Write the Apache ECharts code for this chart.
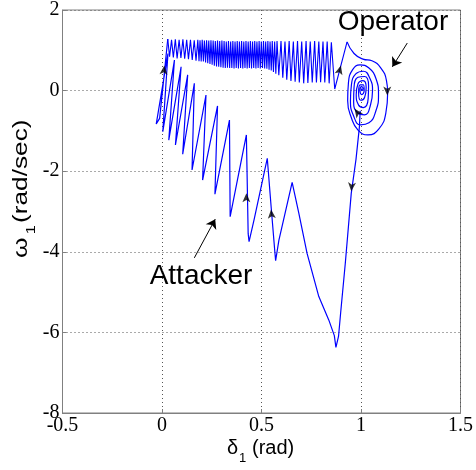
<!DOCTYPE html>
<html><head><meta charset="utf-8">
<script src="https://cdn.jsdelivr.net/npm/echarts@6/dist/echarts.min.js"></script>
<style>html,body{margin:0;padding:0;background:#fff}#c{width:476px;height:470px}</style>
</head><body><div id="c"></div>
<script>
// ---- data (delta_1 [rad], omega_1 [rad/sec]) ----
const xTickLabels = ['-0.5', '0', '0.5', '1', '1.5'];
const yTickLabels = ['-8', '-6', '-4', '-2', '0', '2'];

// attack: V descent from equilibrium, then sawtooth moving left
const vSawtooth = [
  [0.996,-0.5],[0.992,-0.9],[0.975,-1.7],[0.951,-2.55],[0.921,-4.29],[0.898,-5.5],[0.887,-6.1],[0.874,-6.37],
  [0.866,-6.08],[0.838,-5.69],[0.788,-5.11],[0.729,-4.04],[0.688,-3.05],[0.654,-2.28],
  [0.5875,-3.71],[0.571,-4.22],[0.567,-4.0],[0.549,-2.92],[0.529,-1.68],
  [0.4625,-3.21],[0.4375,-3.75],[0.433,-3.55],[0.424,-1.10],
  [0.3425,-3.13],[0.339,-0.73],[0.266,-2.57],[0.279,-0.38],[0.204,-2.22],[0.221,-0.11],
  [0.151,-1.97],[0.1625,0.18],[0.104,-1.58],[0.129,0.39],[0.0675,-1.35],[0.096,0.59],
  [0.034,-1.23],[0.0625,0.76],[0.004,-1.02],[0.03,0.92],[-0.029,-0.83],[-0.012,-0.69],
  [0.004,0.06],[0.0175,0.72],[0.029,1.28]
];

// upper oscillating band moving right
const topBand = [
  [0.029,1.28],[0.038,0.84],[0.048,1.26],[0.057,0.82],[0.067,1.27],[0.076,0.80],[0.086,1.26],[0.095,0.81],
  [0.105,1.27],[0.114,0.79],[0.124,1.26],[0.133,0.78],[0.143,1.26],[0.152,0.76],[0.162,1.25],[0.171,0.74],
  [0.18,1.26],[0.186,0.73],[0.191,1.25],[0.197,0.72],[0.202,1.26],[0.208,0.72],[0.213,1.24],[0.219,0.70],
  [0.224,1.25],[0.23,0.68],[0.235,1.24],[0.241,0.66],[0.246,1.25],[0.252,0.64],[0.257,1.24],[0.263,0.62],
  [0.268,1.23],[0.274,0.60],[0.279,1.24],[0.285,0.59],[0.29,1.23],[0.296,0.58],[0.301,1.24],[0.307,0.57],
  [0.312,1.23],[0.318,0.56],[0.323,1.22],[0.329,0.57],[0.334,1.23],[0.34,0.56],[0.345,1.22],[0.351,0.56],
  [0.356,1.23],[0.362,0.55],[0.367,1.22],[0.373,0.56],[0.378,1.23],[0.384,0.55],[0.389,1.22],[0.395,0.56],
  [0.40,1.23],[0.406,0.55],[0.411,1.22],[0.417,0.56],[0.422,1.23],[0.428,0.55],[0.433,1.22],[0.439,0.56],
  [0.444,1.23],[0.45,0.55],[0.455,1.22],[0.461,0.56],[0.466,1.23],[0.472,0.55],[0.477,1.22],[0.483,0.56],
  [0.488,1.23],[0.494,0.55],[0.499,1.22],[0.505,0.56],[0.51,1.23],[0.516,0.55],[0.521,1.22],[0.527,0.54],
  [0.532,1.23],[0.538,0.52],[0.543,1.22],[0.549,0.50],[0.554,1.23],[0.56,0.46],[0.566,1.22],[0.572,0.42],
  [0.578,1.23],[0.587,0.38],[0.598,1.23],[0.607,0.32],[0.618,1.22],[0.627,0.27],[0.639,1.23],[0.648,0.24],
  [0.66,1.22],[0.669,0.22],[0.681,1.23],[0.69,0.2],[0.702,1.22],[0.712,0.18],[0.724,1.23],[0.733,0.19],
  [0.745,1.22],[0.755,0.2],[0.767,1.23],[0.776,0.2],[0.788,1.22],[0.797,0.21],[0.809,1.22],[0.818,0.2],
  [0.83,1.22],[0.84,0.18],[0.851,1.2],[0.868,0.04],[0.93,1.21]
];

// operator: spiral converging to equilibrium
const spiral = [
  [0.93,1.21],[0.965,0.92],[1.01,0.78],[1.055,0.74],[1.10,0.56],[1.128,0.25],[1.134,-0.05],[1.125,-0.55],
  [1.09,-0.95],[1.035,-1.1],[0.985,-0.98],[0.952,-0.68],[0.933,-0.25],[0.937,0.2],[0.958,0.52],[0.995,0.64],
  [1.04,0.56],[1.075,0.3],[1.088,-0.1],[1.075,-0.5],[1.04,-0.8],[0.998,-0.85],[0.962,-0.62],[0.947,-0.25],
  [0.952,0.15],[0.975,0.42],[1.012,0.48],[1.045,0.3],[1.058,0.0],[1.048,-0.35],[1.018,-0.6],[0.983,-0.55],
  [0.963,-0.28],[0.965,0.08],[0.985,0.33],[1.018,0.35],[1.038,0.12],[1.036,-0.2],[1.012,-0.42],[0.988,-0.36],
  [0.976,-0.1],[0.985,0.17],[1.01,0.25],[1.026,0.08],[1.018,-0.17],[0.998,-0.24],[0.988,-0.05],[0.996,0.14],
  [1.012,0.14],[1.016,0.0],[1.004,-0.1],[0.995,0.02],[1.003,0.1],[1.01,0.05],[1.004,0.0],[1.002,0.05]
];

// direction arrowheads on trajectory: [x, y, rotation deg]
const dirArrows = [
  [0.012,0.62,-6],[0.899,0.62,-15],[1.132,-0.12,180],[0.968,-0.45,35],
  [0.951,-2.5,175],[0.424,-2.55,0],[0.548,-2.95,5]
];

// annotation arrows [from, to]
const operatorArrow = [[1.2325,1.18],[1.1575,0.59]];
const attackerArrow = [[0.1625,-4.15],[0.2675,-3.19]];

const BLUE = '#0000ff';
const GRAY = '#808080';
const LABEL_FONT = '"Liberation Sans", Arial, sans-serif';

const chart = echarts.init(document.getElementById('c'), null, {renderer: 'canvas'});
chart.setOption({
  animation: false,
  backgroundColor: '#fff',
  grid: {left: 62.5, right: 13.5, top: 10, bottom: 57, show: true, borderColor: GRAY, borderWidth: 1},
  xAxis: {
    type: 'value', min: -0.5, max: 1.5, interval: 0.5,
    axisLine: {show: true, onZero: false, lineStyle: {color: GRAY}},
    axisTick: {show: true, inside: true, length: 4, lineStyle: {color: GRAY}},
    splitLine: {show: true, lineStyle: {color: '#555', type: [1, 3], width: 1}},
    axisLabel: {
      color: '#000', fontFamily: 'Liberation Serif', fontSize: 20, margin: 3,
      formatter: (v) => xTickLabels[Math.round((v + 0.5) / 0.5)]
    }
  },
  yAxis: {
    type: 'value', min: -8, max: 2, interval: 2,
    axisLine: {show: true, onZero: false, lineStyle: {color: GRAY}},
    axisTick: {show: true, inside: true, length: 4, lineStyle: {color: GRAY}},
    splitLine: {show: true, lineStyle: {color: '#555', type: [1, 3], width: 1}},
    axisLabel: {
      color: '#000', fontFamily: 'Liberation Serif', fontSize: 20, margin: 3,
      formatter: (v) => yTickLabels[Math.round((v + 8) / 2)]
    }
  },
  series: [
    {type: 'line', data: vSawtooth, showSymbol: false, lineStyle: {color: BLUE, width: 1.2}, z: 3},
    {type: 'line', data: topBand, showSymbol: false, lineStyle: {color: BLUE, width: 1.1}, z: 3},
    {type: 'line', data: spiral, showSymbol: false, smooth: 0.5, lineStyle: {color: BLUE, width: 1.2}, z: 3},
    {
      type: 'scatter', symbol: 'arrow', symbolSize: [6, 9], itemStyle: {color: '#000'}, z: 5,
      data: dirArrows.map(a => ({value: [a[0], a[1]], symbolRotate: a[2]})),
      markLine: {
        silent: true, symbol: ['none', 'arrow'], symbolSize: 9,
        label: {show: false},
        lineStyle: {color: '#000', width: 1, type: 'solid'},
        data: [
          [{coord: operatorArrow[0]}, {coord: operatorArrow[1]}],
          [{coord: attackerArrow[0]}, {coord: attackerArrow[1]}]
        ]
      }
    }
  ],
  graphic: [
    {type: 'text', x: 393, y: 22, style: {text: 'Operator', font: '28px ' + LABEL_FONT, fill: '#000', align: 'center', verticalAlign: 'middle'}},
    {type: 'text', x: 201, y: 276, style: {text: 'Attacker', font: '28px ' + LABEL_FONT, fill: '#000', align: 'center', verticalAlign: 'middle'}},
    // x axis title: δ1 (rad)
    {type: 'text', x: 227, y: 448, style: {text: 'δ', font: '20px ' + LABEL_FONT, fill: '#000', align: 'left', verticalAlign: 'middle'}},
    {type: 'text', x: 239, y: 458, style: {text: '1', font: '13px ' + LABEL_FONT, fill: '#000', align: 'left', verticalAlign: 'middle'}},
    {type: 'text', x: 252, y: 448, style: {text: '(rad)', font: '20px ' + LABEL_FONT, fill: '#000', align: 'left', verticalAlign: 'middle'}},
    // y axis title: ω1 (rad/sec), reading bottom to top
    {type: 'group', x: 28, y: 258, rotation: Math.PI / 2, scaleX: 1.25, children: [
      {type: 'text', x: 0, y: -7, style: {text: 'ω', font: '21px ' + LABEL_FONT, fill: '#000', align: 'left', verticalAlign: 'middle'}},
      {type: 'text', x: 19, y: 3, style: {text: '1', font: '13px ' + LABEL_FONT, fill: '#000', align: 'left', verticalAlign: 'middle'}},
      {type: 'text', x: 28, y: -7, style: {text: '(rad/sec)', font: '21px ' + LABEL_FONT, fill: '#000', align: 'left', verticalAlign: 'middle'}}
    ]}
  ]
});
</script></body></html>
